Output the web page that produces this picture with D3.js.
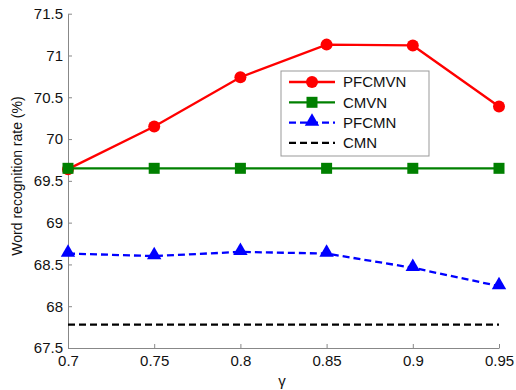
<!DOCTYPE html>
<html>
<head>
<meta charset="utf-8">
<script src="https://cdn.jsdelivr.net/npm/d3@7"></script>
<style>
html,body{margin:0;padding:0;background:#fff;}
svg{display:block;font-family:"Liberation Sans",Arial,sans-serif;}
</style>
</head>
<body>
<svg id="chart" width="516" height="390"></svg>
<script>
const gammas = [0.7, 0.75, 0.8, 0.85, 0.9, 0.95];
const pfcmvn = [69.64, 70.15, 70.74, 71.13, 71.12, 70.39];
const cmvn = [69.65, 69.65, 69.65, 69.65, 69.65, 69.65];
const pfcmn = [68.63, 68.60, 68.65, 68.63, 68.46, 68.24];
const cmn = [67.78, 67.78, 67.78, 67.78, 67.78, 67.78];
const xTicks = [0.7, 0.75, 0.8, 0.85, 0.9, 0.95];
const yTicks = [67.5, 68, 68.5, 69, 69.5, 70, 70.5, 71, 71.5];
const seriesNames = ["PFCMVN", "CMVN", "PFCMN", "CMN"];

const svg = d3.select("#chart");
const x = d3.scaleLinear().domain([0.7, 0.95]).range([68, 499]);
const y = d3.scaleLinear().domain([67.5, 71.5]).range([348, 13.7]);

const axisColor = "#888";
const xa = svg.append("g").attr("transform", "translate(0,348)")
  .call(d3.axisBottom(x).tickValues(xTicks).tickFormat(d3.format("")).tickSizeInner(-4).tickSizeOuter(0).tickPadding(4));
const ya = svg.append("g").attr("transform", "translate(68,0)")
  .call(d3.axisLeft(y).tickValues(yTicks).tickFormat(d3.format("")).tickSizeInner(-4).tickSizeOuter(0).tickPadding(5));
[xa, ya].forEach(a => {
  a.select(".domain").attr("stroke", axisColor).attr("stroke-width", 1);
  a.selectAll(".tick line").attr("stroke", axisColor);
  a.selectAll(".tick text").attr("fill", "#111").style("font-size", "15px").style("font-family", "Liberation Sans, Arial, sans-serif");
});
xa.selectAll(".tick text").attr("dy", "0.9em");

const series = [
  {name: seriesNames[0], vals: pfcmvn, color: "#ff0000", dash: null, marker: "circle"},
  {name: seriesNames[1], vals: cmvn, color: "#008000", dash: null, marker: "square"},
  {name: seriesNames[2], vals: pfcmn, color: "#0000ff", dash: "7,4", marker: "triangle"},
  {name: seriesNames[3], vals: cmn, color: "#000000", dash: "7,4", marker: null}
];

const line = d3.line().x((d, i) => x(gammas[i])).y(d => y(d));

function drawMarker(g, type, cx, cy, color) {
  if (type === "circle") {
    g.append("circle").attr("cx", cx).attr("cy", cy).attr("r", 6).attr("fill", color);
  } else if (type === "square") {
    g.append("rect").attr("x", cx - 5.5).attr("y", cy - 5.5).attr("width", 11).attr("height", 11).attr("fill", color);
  } else if (type === "triangle") {
    const s = d3.symbol().type(d3.symbolTriangle).size(90);
    g.append("path").attr("d", s()).attr("transform", `translate(${cx},${cy - 1})`).attr("fill", color);
  }
}

series.forEach(s => {
  const g = svg.append("g");
  g.append("path").attr("d", line(s.vals)).attr("fill", "none").attr("stroke", s.color)
    .attr("stroke-width", 2.3).attr("stroke-dasharray", s.dash);
  if (s.marker) s.vals.forEach((v, i) => drawMarker(g, s.marker, x(gammas[i]), y(v), s.color));
});

const lg = svg.append("g");
lg.append("rect").attr("x", 281).attr("y", 71).attr("width", 148).attr("height", 85)
  .attr("fill", "#fff").attr("stroke", "#999").attr("stroke-width", 1);
series.forEach((s, i) => {
  const ly = 82 + i * 20.3;
  lg.append("line").attr("x1", 289).attr("x2", 335).attr("y1", ly).attr("y2", ly)
    .attr("stroke", s.color).attr("stroke-width", 2.3).attr("stroke-dasharray", s.dash);
  if (s.marker) drawMarker(lg, s.marker, 312, ly, s.color);
  lg.append("text").attr("x", 343).attr("y", ly).attr("dy", "0.36em")
    .style("font-size", "15px").attr("fill", "#111").text(s.name);
});

svg.append("text").attr("transform", "translate(22,176) rotate(-90)")
  .attr("text-anchor", "middle").style("font-size", "14px").attr("fill", "#111")
  .text("Word recognition rate (%)");
svg.append("text").attr("x", 282).attr("y", 386).attr("text-anchor", "middle")
  .style("font-size", "15px").attr("fill", "#111").text("γ");
</script>
</body>
</html>
